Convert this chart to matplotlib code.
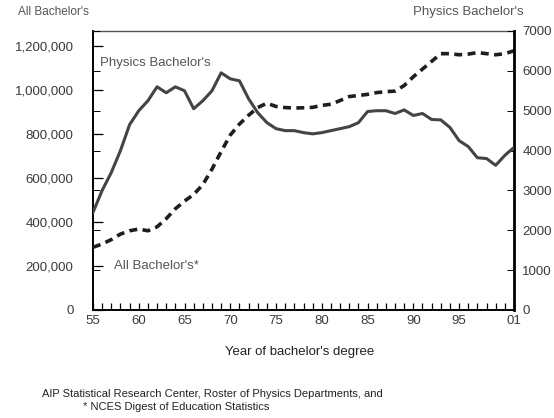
import matplotlib
matplotlib.use("Agg")
import matplotlib.pyplot as plt
from matplotlib.ticker import FuncFormatter, MultipleLocator

plt.rcParams["font.family"] = ["Liberation Sans", "DejaVu Sans"]

# year of bachelor's degree (1955 .. 2001, written as 55 .. 101)
years = list(range(55, 102))

# physics bachelor's (right axis)
physics = [2450, 3000, 3450, 4000, 4650, 5000, 5250, 5600, 5450, 5600,
           5500, 5050, 5250, 5500, 5950, 5800, 5750, 5300, 4950, 4700,
           4550, 4500, 4500, 4450, 4420, 4450, 4500, 4550, 4600, 4700,
           4980, 5000, 5000, 4930, 5020, 4880, 4930, 4780, 4770, 4580,
           4250, 4100, 3820, 3800, 3630, 3880, 4080]

# all bachelor's (left axis)
all_bach = [285000, 300000, 320000, 345000, 360000, 368000, 360000, 378000,
            415000, 460000, 495000, 525000, 570000, 640000, 720000, 795000,
            845000, 885000, 920000, 940000, 925000, 920000, 918000, 919000,
            921000, 930000, 935000, 952000, 970000, 975000, 980000, 988000,
            992000, 995000, 1020000, 1060000, 1095000, 1130000, 1165000,
            1165000, 1160000, 1163000, 1170000, 1165000, 1160000, 1165000,
            1178000]

xticks = [55, 60, 65, 70, 75, 80, 85, 90, 95, 101]
xtick_labels = ["55", "60", "65", "70", "75", "80", "85", "90", "95", "01"]
left_ticks = [0, 200000, 400000, 600000, 800000, 1000000, 1200000]
right_ticks = [0, 1000, 2000, 3000, 4000, 5000, 6000, 7000]

label_grey = "#3a3a3a"
head_grey = "#555555"

fig = plt.figure(figsize=(5.54, 4.18), dpi=100)
ax = fig.add_axes([93 / 554, 1 - 310 / 418, (514 - 93) / 554, (310 - 31) / 418])
ax2 = ax.twinx()

ax.plot(years, all_bach, color="#1e1e1e", lw=2.6, dashes=(2.2, 1.5),
        solid_capstyle="butt", zorder=3)
ax2.plot(years, physics, color="#444444", lw=2.2, zorder=3)

ax.set_xlim(55, 101)
ax.set_ylim(0, 1268000)
ax2.set_ylim(0, 7000)

ax.set_xticks(xticks)
ax.set_xticklabels(xtick_labels)
ax.xaxis.set_minor_locator(MultipleLocator(1))
ax.set_yticks(left_ticks)
ax.yaxis.set_major_formatter(FuncFormatter(lambda v, p: f"{int(v):,}"))
ax2.set_yticks(right_ticks)

ax.tick_params(axis="x", which="both", direction="in", length=5, width=0.9,
               pad=3.5, labelsize=9.5, labelcolor=label_grey, top=False)
ax.tick_params(axis="y", direction="in", length=7, width=0.9, pad=14,
               labelsize=9.5, labelcolor=label_grey)
ax2.tick_params(axis="y", direction="in", length=5, width=0.7, pad=6,
                labelsize=9.5, labelcolor=label_grey, left=True)

for s in ("left", "bottom"):
    ax.spines[s].set_linewidth(1.4)
ax.spines["top"].set_linewidth(1.0)
ax.spines["top"].set_color("#555555")
ax2.spines["right"].set_linewidth(2.0)
ax2.spines["top"].set_visible(False)
ax2.spines["left"].set_visible(False)
ax2.spines["bottom"].set_visible(False)

ax.text(55.75, 1122000, "Physics Bachelor's", fontsize=9.5, color=head_grey,
        va="center", ha="left")
ax.text(57.3, 200000, "All Bachelor's*", fontsize=9.5, color=head_grey,
        va="center", ha="left")

fig.text(18 / 554, 1 - 12 / 418, "All Bachelor's", fontsize=8.5,
         color=head_grey, ha="left", va="center")
fig.text(524 / 554, 1 - 12 / 418, "Physics Bachelor's", fontsize=9.5,
         color=head_grey, ha="right", va="center")
fig.text(300 / 554, 1 - 352 / 418, "Year of bachelor's degree", fontsize=9.5,
         color="#222222", ha="center", va="center")
fig.text(42 / 554, 1 - 394 / 418,
         "AIP Statistical Research Center, Roster of Physics Departments, and",
         fontsize=8, color="#222222", ha="left", va="center")
fig.text(83 / 554, 1 - 407 / 418, "* NCES Digest of Education Statistics",
         fontsize=8, color="#222222", ha="left", va="center")

fig.savefig("out.png", dpi=100, facecolor="white")
